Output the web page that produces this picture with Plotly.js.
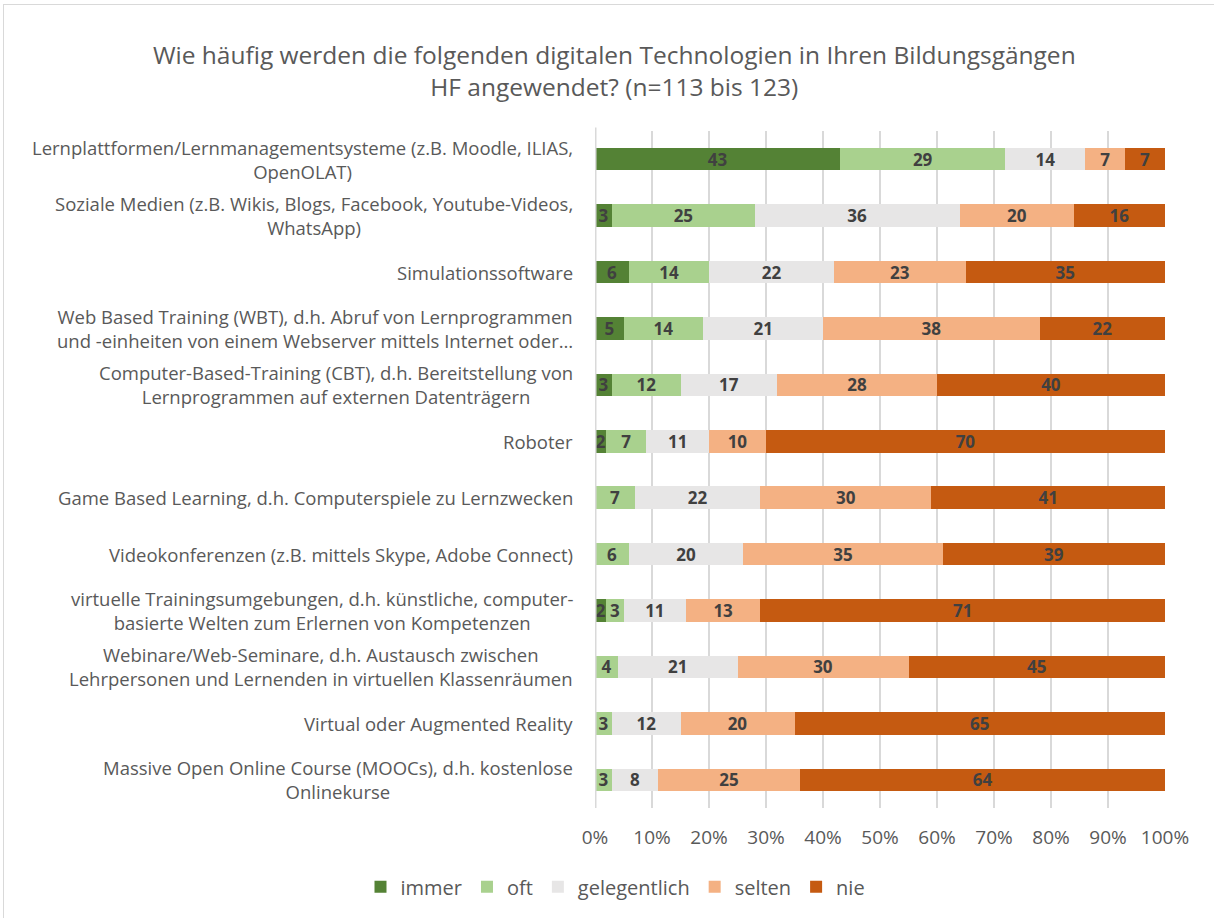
<!DOCTYPE html>
<html>
<head>
<meta charset="utf-8">
<script src="https://cdn.plot.ly/plotly-3.0.1.min.js"></script>
<style>
html,body{margin:0;padding:0;background:#fff;}
#wrap{position:absolute;left:0;top:0;width:1214px;height:918px;}
#frame{position:absolute;left:3px;top:4px;width:1220px;height:920px;border:1px solid #d9d9d9;pointer-events:none;}
#chart{width:1214px;height:918px;}
</style>
</head>
<body>
<div id="wrap"><div id="chart"></div><div id="frame"></div></div>
<script>
const categories = [
  "Lernplattformen/Lernmanagementsysteme (z.B. Moodle, ILIAS,<br>OpenOLAT)",
  "Soziale Medien (z.B. Wikis, Blogs, Facebook, Youtube-Videos,<br>WhatsApp)",
  "Simulationssoftware",
  "Web Based Training (WBT), d.h. Abruf von Lernprogrammen<br>und -einheiten von einem Webserver mittels Internet oder…",
  "Computer-Based-Training (CBT), d.h. Bereitstellung von<br>Lernprogrammen auf externen Datenträgern",
  "Roboter",
  "Game Based Learning, d.h. Computerspiele zu Lernzwecken",
  "Videokonferenzen (z.B. mittels Skype, Adobe Connect)",
  "virtuelle Trainingsumgebungen, d.h. künstliche, computer-<br>basierte Welten zum Erlernen von Kompetenzen",
  "Webinare/Web-Seminare, d.h. Austausch zwischen<br>Lehrpersonen und Lernenden in virtuellen Klassenräumen",
  "Virtual oder Augmented Reality",
  "Massive Open Online Course (MOOCs), d.h. kostenlose<br>Onlinekurse"
];
const immer        = [43, 3, 6, 5, 3, 2, 0, 0, 2, 0, 0, 0];
const oft          = [29, 25, 14, 14, 12, 7, 7, 6, 3, 4, 3, 3];
const gelegentlich = [14, 36, 22, 21, 17, 11, 22, 20, 11, 21, 12, 8];
const selten       = [7, 20, 23, 38, 28, 10, 30, 35, 13, 30, 20, 25];
const nie          = [7, 16, 35, 22, 40, 70, 41, 39, 71, 45, 65, 64];
const seriesNames  = ["immer", "oft", "gelegentlich", "selten", "nie"];
const xTickVals    = [0,10,20,30,40,50,60,70,80,90,100];
const xTickText    = ["0%","10%","20%","30%","40%","50%","60%","70%","80%","90%","100%"];

const colors = ["#548235", "#a9d18e", "#e7e6e6", "#f4b183", "#c55a11"];
const seriesVals = [immer, oft, gelegentlich, selten, nie];
const FONT = "Open Sans, sans-serif";

const traces = seriesVals.map((vals, i) => ({
  type: "bar",
  orientation: "h",
  name: seriesNames[i],
  y: categories,
  x: vals,
  marker: {color: colors[i], line: {width: 0}},
  text: vals.map(v => v > 0 ? String(v) : ""),
  textposition: "inside",
  insidetextanchor: "middle",
  textangle: 0,
  textfont: {family: FONT, size: 17, color: "#404040", weight: "bold"},
  hoverinfo: "name+x"
}));

const annotations = categories.map(c => ({
  xref: "paper", yref: "y", x: -0.035, y: c,
  xanchor: "right", yanchor: "middle", align: "center",
  text: c, showarrow: false,
  font: {family: FONT, size: 18.5, color: "#595959"}
}));

const layout = {
  width: 1214, height: 918,
  paper_bgcolor: "#ffffff", plot_bgcolor: "#ffffff",
  barmode: "stack",
  bargap: 0.6,
  margin: {l: 595, r: 49, t: 131, b: 110},
  title: {
    text: "Wie häufig werden die folgenden digitalen Technologien in Ihren Bildungsgängen<br>HF angewendet? (n=113 bis 123)",
    font: {family: FONT, size: 24.5, color: "#595959"},
    xref: "container", x: 0.506, xanchor: "center",
    yref: "container", y: 0.930, yanchor: "middle"
  },
  xaxis: {
    range: [0, 100], tickvals: xTickVals, ticktext: xTickText,
    showgrid: true, gridcolor: "#d9d9d9", gridwidth: 1.5,
    zeroline: false, showline: false,
    tickfont: {family: FONT, size: 19, color: "#595959"},
    ticks: "", ticklen: 0, ticklabelstandoff: 16, fixedrange: true
  },
  yaxis: {
    autorange: "reversed", showticklabels: false, ticks: "",
    showgrid: false, zeroline: false, showline: false, fixedrange: true
  },
  shapes: [{type: "line", xref: "x", yref: "paper", x0: 0, x1: 0, y0: 0, y1: 1.005,
            line: {color: "#d9d9d9", width: 3}}],
  annotations: annotations,
  uniformtext: {mode: "show", minsize: 17},
  legend: {
    orientation: "h", xref: "container", yref: "container",
    x: 0.507, xanchor: "center", y: 0.034, yanchor: "middle",
    font: {family: FONT, size: 20, color: "#595959"},
    traceorder: "normal", itemwidth: 30, itemgap: 24
  },
  showlegend: true
};

Plotly.newPlot("chart", traces, layout, {displayModeBar: false, staticPlot: false});
</script>
</body>
</html>
